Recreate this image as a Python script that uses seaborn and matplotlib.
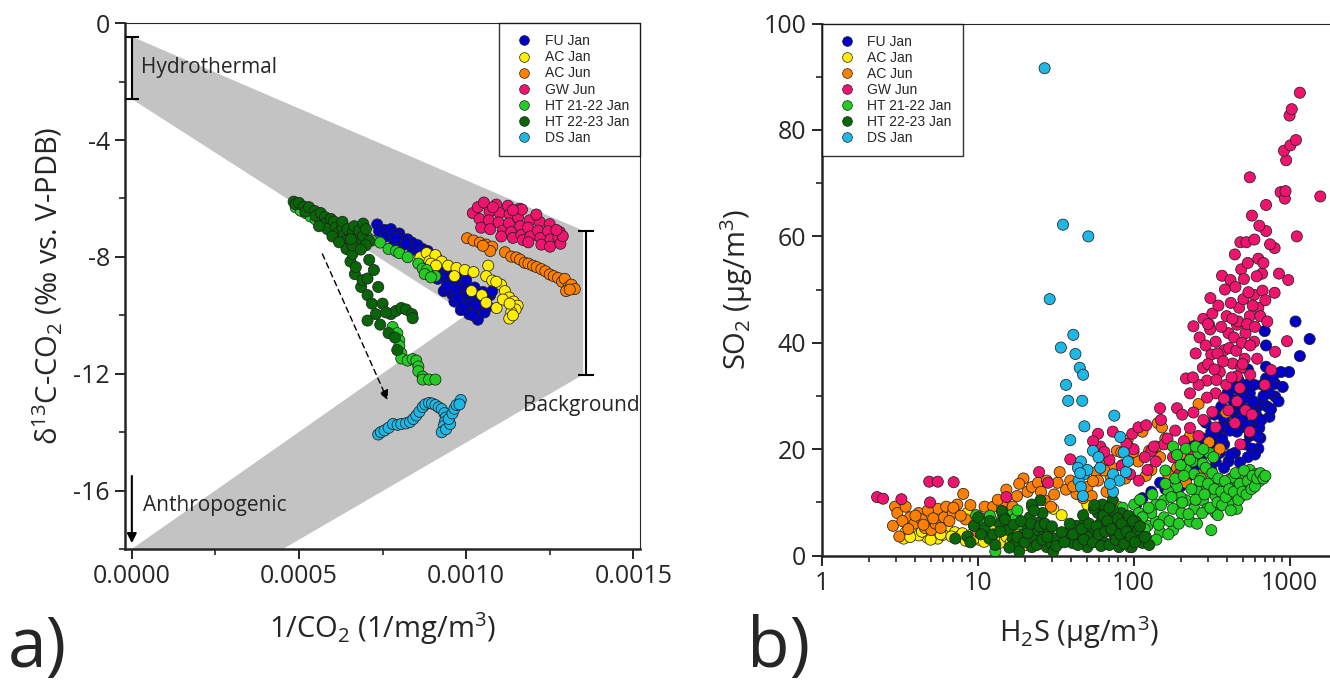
import matplotlib
matplotlib.use("Agg")
import matplotlib.pyplot as plt
import pandas as pd
import seaborn as sns
from matplotlib.lines import Line2D
from matplotlib.ticker import (MultipleLocator, FormatStrFormatter,
                               FuncFormatter, NullFormatter, LogLocator)

sns.set_style("ticks")
plt.rcParams["font.family"] = ["Open Sans", "DejaVu Sans"]
plt.rcParams["mathtext.default"] = "regular"
plt.rcParams["axes.unicode_minus"] = False

SERIES = ["FU Jan", "AC Jan", "AC Jun", "GW Jun",
          "HT 21-22 Jan", "HT 22-23 Jan", "DS Jan"]
COLORS = ["#0000C8", "#FFEE00", "#FF8000", "#F0146E",
          "#22CC22", "#086608", "#1EB8E6"]

# --- panel a: 1/CO2 (1/mg/m3) vs d13C-CO2 ---
FU_JAN_A = [(0.000734, -6.89), (0.00074, -7.12), (0.000756, -7.08), (0.00076, -7.3),
            (0.000775, -7.05), (0.000781, -7.22), (0.000785, -7.45), (0.0008, -7.2),
            (0.000806, -7.36), (0.00081, -7.6), (0.000825, -7.4), (0.000838, -7.51),
            (0.00084, -7.75), (0.000855, -7.6), (0.00087, -7.73), (0.000872, -7.95),
            (0.000885, -7.8), (0.000895, -7.94), (0.000893, -8.2), (0.00091, -8.0),
            (0.00092, -8.16), (0.000918, -8.4), (0.000925, -8.62), (0.000935, -8.3),
            (0.000946, -8.45), (0.00094, -8.7), (0.00095, -8.95), (0.000933, -9.17),
            (0.00096, -8.55), (0.000971, -8.66), (0.000968, -8.9), (0.000959, -9.3),
            (0.000965, -9.53), (0.00098, -9.15), (0.000984, -9.82), (0.00099, -9.45),
            (0.000996, -9.03), (0.001, -8.8), (0.001005, -9.25), (0.001009, -9.96),
            (0.001012, -9.6), (0.001022, -9.31), (0.001025, -9.05), (0.001028, -9.8),
            (0.001035, -10.15), (0.00104, -9.45), (0.001047, -9.53), (0.00105, -9.2),
            (0.001055, -9.9), (0.001072, -9.31), (0.001078, -9.17), (0.001065, -9.7),
            (0.000905, -8.55), (0.00088, -8.1), (0.00086, -7.85), (0.00082, -7.55),
            (0.00079, -7.35), (0.00095, -9.15), (0.00097, -9.1), (0.00099, -9.7),
            (0.00102, -10.0), (0.000942, -9.0), (0.000915, -8.75), (0.00103, -9.65),
            (0.000975, -9.4)]
AC_JAN_A = [(0.000863, -8.01), (0.000882, -7.87), (0.00089, -8.15), (0.000908, -7.94),
            (0.000927, -8.16), (0.000895, -8.23), (0.00091, -8.3), (0.000946, -8.30),
            (0.000971, -8.38), (0.000996, -8.45), (0.001022, -8.52), (0.000965, -8.66),
            (0.001016, -9.17), (0.001047, -9.31), (0.00106, -9.57), (0.001066, -8.30),
            (0.00106, -8.66), (0.001078, -8.81), (0.001104, -8.95), (0.001116, -9.17),
            (0.001129, -9.39), (0.001142, -9.53), (0.001154, -9.67), (0.001148, -9.8),
            (0.001135, -9.89), (0.001129, -10.11), (0.00114, -10.0), (0.001091, -9.75),
            (0.00111, -9.46), (0.00113, -9.6), (0.00109, -8.85)]
AC_JUN_A = [(0.001003, -7.36), (0.001022, -7.44), (0.001041, -7.51), (0.00106, -7.58),
            (0.001078, -7.65), (0.001072, -7.80), (0.00105, -7.62), (0.001116, -7.84),
            (0.001135, -7.99), (0.00115, -8.02), (0.001161, -8.09), (0.001175, -8.2),
            (0.001186, -8.23), (0.0012, -8.3), (0.001211, -8.35), (0.001225, -8.42),
            (0.001237, -8.49), (0.00125, -8.6), (0.001262, -8.66), (0.001275, -8.72),
            (0.001287, -8.85), (0.001295, -8.75), (0.001306, -9.03), (0.001315, -8.95),
            (0.001325, -9.10), (0.001299, -9.17), (0.00131, -9.12)]
GW_JUN_A = [(0.00102, -6.5), (0.001035, -6.3), (0.00104, -6.7), (0.001045, -7.0),
            (0.001053, -6.14), (0.00107, -6.45), (0.001068, -6.75), (0.001072, -7.05),
            (0.00109, -6.21), (0.0011, -6.5), (0.001097, -6.82), (0.00111, -7.1),
            (0.001105, -7.3), (0.001125, -6.25), (0.00113, -6.55), (0.001128, -6.85),
            (0.001135, -7.15), (0.00114, -7.35), (0.00116, -6.35), (0.001155, -6.65),
            (0.001162, -6.95), (0.001165, -7.25), (0.00117, -7.42), (0.001167, -6.38),
            (0.00119, -6.75), (0.001185, -7.0), (0.001192, -7.3), (0.001186, -7.5),
            (0.00122, -6.8), (0.001215, -7.1), (0.001222, -7.35), (0.001225, -7.58),
            (0.00125, -6.88), (0.001245, -7.12), (0.001252, -7.4), (0.001251, -7.65),
            (0.00128, -7.15), (0.001276, -7.35), (0.001282, -7.55), (0.001289, -7.29),
            (0.00127, -7.08), (0.00121, -6.55), (0.00108, -6.3), (0.00114, -6.4)]
HT_2122_A = [(0.00049, -6.3), (0.000505, -6.42), (0.00052, -6.5), (0.000535, -6.62),
             (0.00055, -6.72), (0.00069, -7.25), (0.000705, -7.35), (0.000718, -7.44),
             (0.000743, -7.51), (0.000768, -7.73), (0.00079, -7.8), (0.0008, -7.87),
             (0.000825, -8.01), (0.000857, -8.23), (0.00087, -8.4), (0.000882, -8.45),
             (0.000876, -8.59), (0.000908, -8.66), (0.000895, -8.7), (0.00078, -10.4),
             (0.000794, -10.61), (0.0008, -10.85), (0.0008, -11.05), (0.000806, -11.3),
             (0.000806, -11.48), (0.000825, -11.55), (0.00084, -11.5), (0.000851, -11.55),
             (0.000857, -11.75), (0.000857, -11.91), (0.00087, -12.1), (0.00087, -12.2),
             (0.000889, -12.2), (0.000908, -12.2)]
HT_2223_A = [(0.000484, -6.11), (0.00049, -6.2), (0.0005, -6.15), (0.000515, -6.28),
             (0.00052, -6.45), (0.00053, -6.3), (0.000547, -6.43), (0.00055, -6.6),
             (0.000565, -6.5), (0.000578, -6.64), (0.00058, -6.85), (0.000585, -7.05),
             (0.000595, -6.7), (0.000604, -6.79), (0.00061, -7.0), (0.000615, -7.2),
             (0.000629, -7.0), (0.00063, -6.8), (0.000635, -7.25), (0.00064, -7.45),
             (0.000645, -7.05), (0.000661, -7.15), (0.000665, -6.95), (0.00067, -7.35),
             (0.000675, -7.55), (0.00068, -7.1), (0.000692, -6.86), (0.000692, -7.29),
             (0.0007, -7.05), (0.00071, -7.45), (0.000642, -7.73), (0.000654, -8.16),
             (0.00066, -7.9), (0.000667, -8.59), (0.00067, -8.35), (0.000686, -9.03),
             (0.00069, -8.8), (0.000705, -9.31), (0.000705, -8.74), (0.000718, -9.60),
             (0.000724, -8.45), (0.000737, -9.03), (0.00073, -9.96), (0.00075, -9.6),
             (0.000743, -10.32), (0.000705, -10.18), (0.00071, -8.1), (0.000768, -10.61),
             (0.000787, -10.76), (0.000794, -11.19), (0.000775, -9.96), (0.00079, -9.85),
             (0.000806, -9.75), (0.00082, -9.8), (0.000838, -9.96), (0.00084, -10.1),
             (0.00076, -9.9), (0.00056, -6.95), (0.0006, -7.3), (0.00062, -7.5),
             (0.00066, -7.6), (0.0007, -7.6), (0.000655, -7.4), (0.000685, -7.75)]
DS_JAN_A = [(0.000737, -14.08), (0.000745, -14.0), (0.000756, -13.94), (0.000768, -13.85),
            (0.000781, -13.72), (0.000795, -13.75), (0.000806, -13.72), (0.00082, -13.7),
            (0.000832, -13.65), (0.000842, -13.55), (0.000851, -13.43), (0.00086, -13.3),
            (0.00087, -13.14), (0.000878, -13.05), (0.000889, -13.0), (0.000898, -13.02),
            (0.000908, -13.07), (0.000918, -13.15), (0.000927, -13.21), (0.000935, -13.35),
            (0.000939, -13.50), (0.000936, -13.65), (0.000933, -13.79), (0.000927, -14.0),
            (0.00094, -13.9), (0.000952, -13.72), (0.000948, -13.55), (0.000959, -13.36),
            (0.000965, -13.2), (0.000971, -13.07), (0.000984, -12.9), (0.00098, -13.05)]

# --- panel b: H2S vs SO2 (ug/m3) ---
FU_JAN_B = [(1092, 44.0), (1345, 40.7), (1164, 37.5), (693, 42.2), (707, 39.5), (707, 35.5),
            (707, 33.3), (808, 32.3), (904, 31.7), (993, 34.5), (808, 29.9), (743, 30.5),
            (743, 26.1), (671, 32.1), (631, 28.1), (593, 32.1), (556, 30.5), (522, 32.1),
            (490, 30.5), (460, 27.3), (432, 29.3), (406, 27.3), (381, 25.7), (357, 24.1),
            (336, 22.5), (315, 23.3), (296, 20.9), (261, 20.1), (230, 20.9), (245, 18.5),
            (217, 16.9), (190, 15.3), (167, 14.5), (148, 13.7), (130, 12.0), (114, 10.8),
            (104, 9.6), (490, 24.1), (556, 22.5), (631, 20.1), (650, 22.1), (593, 27.3),
            (671, 28.9), (446, 19.3), (406, 17.7), (357, 19.3), (381, 20.9), (460, 23.3),
            (522, 20.9), (574, 20.1), (336, 17.7), (315, 16.1), (600, 25.0), (540, 35.0),
            (470, 33.0), (640, 24.0), (160, 12.5), (175, 15.5), (200, 13.0), (210, 18.0),
            (225, 15.0), (235, 22.5), (250, 16.0), (270, 18.0), (280, 22.0), (290, 25.0),
            (300, 19.5), (320, 21.0), (330, 26.5), (345, 22.5), (365, 28.0), (370, 22.0),
            (390, 24.0), (400, 30.5), (415, 23.5), (425, 27.0), (445, 31.5), (455, 25.5),
            (475, 28.5), (500, 26.0), (510, 29.5), (530, 24.5), (545, 27.5), (565, 23.0),
            (585, 29.0), (610, 26.5), (620, 22.5), (660, 25.5), (680, 30.0), (720, 28.0),
            (760, 27.5), (780, 33.5), (850, 29.0), (880, 34.5), (600, 19.0), (540, 18.5),
            (480, 17.5), (420, 19.0), (380, 16.5), (270, 13.5)]
AC_JAN_B = [(3.36, 3.2), (3.46, 4.4), (3.81, 4.8), (4.75, 3.4), (5.21, 5.2), (5.56, 3.2),
            (6.50, 4.8), (7.16, 4.4), (7.62, 3.6), (8.4, 2.8), (8.6, 8.0), (9.2, 4.0),
            (9.8, 4.8), (10.8, 3.6), (11.5, 4.4), (12.2, 4.8), (11.9, 7.2), (14.3, 8.4),
            (13.9, 2.4), (15.3, 3.6), (16.3, 2.4), (16.8, 5.2), (17.3, 3.2), (19.0, 4.8),
            (20.3, 2.0), (20.9, 4.4), (22.3, 9.2), (30.6, 8.8), (34.6, 7.6), (81, 9.1),
            (50.6, 9.6), (4.2, 3.8), (6.0, 3.9), (10.2, 3.0), (3.7, 3.5), (4.4, 4.5),
            (5.0, 3.0), (5.8, 4.0), (6.8, 3.6), (8.0, 4.2), (9.5, 3.2), (11.0, 2.6),
            (12.8, 3.4), (14.5, 4.8), (18.0, 3.8), (21.5, 4.0), (16.0, 5.8)]
AC_JUN_B = [(2.87, 5.6), (2.96, 9.2), (3.06, 8.0), (3.15, 3.6), (3.46, 9.2), (3.69, 7.2),
            (3.93, 6.0), (4.19, 8.0), (4.38, 6.8), (4.60, 5.2), (5.05, 4.8), (5.38, 6.0),
            (5.56, 8.8), (6.10, 7.2), (6.30, 9.2), (6.94, 8.0), (7.41, 9.6), (8.1, 11.6),
            (8.4, 6.8), (9.5, 5.6), (10.1, 4.4), (11.1, 9.2), (12.6, 9.2), (14.3, 9.6),
            (15.3, 12.4), (16.8, 9.2), (17.9, 11.2), (19.7, 14.5), (20.9, 12.0), (22.3, 12.9),
            (24.4, 13.7), (26.9, 10.4), (27.8, 14.1), (29.6, 9.2), (32.6, 13.7), (33.6, 15.7),
            (36.9, 12.4), (39.3, 14.1), (43.1, 11.6), (47.5, 10.8), (50.6, 12.9), (53.9, 11.2),
            (57.5, 15.7), (59.2, 14.1), (63.2, 17.7), (67.1, 12.0), (71.3, 14.9), (73.6, 16.5),
            (78.2, 19.7), (83.4, 19.4), (88.7, 14.5), (91.5, 21.7), (94.3, 18.1), (107, 17.7),
            (114, 23.3), (126, 19.7), (130, 16.1), (143, 24.9), (148, 18.5), (152, 24.1),
            (167, 15.3), (190, 16.5), (217, 13.7), (245, 18.5), (261, 28.5), (336, 19.3),
            (393, 26.9), (357, 20.1), (305, 21.3), (3.3, 6.5), (3.6, 5.0), (4.0, 7.5),
            (4.5, 5.8), (4.8, 8.5), (5.2, 7.0), (5.8, 5.2), (6.6, 6.5), (7.0, 9.0),
            (7.8, 7.5), (9.0, 9.5), (10.5, 7.0), (13.5, 10.5), (18.5, 13.5), (25.5, 12.0),
            (31.0, 11.5), (41.0, 13.0), (55.0, 14.0), (65.0, 16.0), (85.0, 17.0),
            (100, 19.5), (120, 15.0), (140, 20.5), (160, 22.0), (200, 19.0), (230, 22.5),
            (280, 15.5), (420, 14.5)]
GW_JUN_B = [(2.27, 11.0), (2.48, 10.7), (3.25, 10.6), (4.90, 13.9), (5.56, 13.9), (7.03, 13.8),
            (4.96, 10.0), (15.3, 11.0), (24.8, 15.7), (28.3, 13.7), (39.3, 18.1), (59.2, 22.9),
            (61.2, 20.5), (73.6, 23.3), (98.2, 22.9), (107.5, 24.1), (120.6, 24.5), (130, 19.7),
            (147.8, 27.7), (190, 27.7), (205, 26.5), (242, 19.3), (242, 26.9), (242, 43.1),
            (305, 43.4), (311, 48.4), (369, 52.6), (418, 51.8), (446, 56.6), (484, 58.9),
            (529, 58.9), (490, 53.8), (556, 71.1), (574, 63.9), (595, 59.4), (631, 55.8),
            (666, 53.0), (707, 61.0), (707, 65.9), (802, 57.8), (802, 49.4), (855, 53.0),
            (876, 68.3), (933, 67.1), (942, 68.5), (981, 51.8), (951, 74.3), (921, 76.1),
            (1012, 77.1), (1099, 78.1), (1000, 82.7), (1033, 83.9), (1164, 87.0), (1113, 60.0),
            (1574, 67.5), (963, 40.3), (808, 38.3), (762, 34.9), (693, 32.1), (278, 35.3),
            (296, 32.9), (315, 37.8), (336, 40.2), (357, 34.5), (381, 38.6), (406, 41.8),
            (432, 36.1), (460, 43.4), (475, 46.6), (506, 48.2), (522, 41.8), (556, 45.0),
            (593, 49.0), (631, 46.6), (671, 49.8), (593, 40.2), (490, 35.3), (393, 32.1),
            (336, 30.5), (296, 29.7), (261, 32.1), (230, 30.5), (217, 33.3), (460, 33.7),
            (406, 27.3), (446, 24.9), (522, 27.3), (574, 26.5), (336, 24.1), (261, 22.5),
            (157, 20.9), (179, 18.5), (139, 17.7), (196, 15.3), (123, 16.1), (108, 14.1),
            (95, 15.3), (84, 16.9), (556, 23.3), (484, 20.9), (250, 38.0), (265, 41.0),
            (280, 44.5), (290, 39.5), (300, 36.0), (310, 42.5), (320, 45.5), (330, 35.0),
            (345, 38.0), (350, 47.0), (365, 43.0), (375, 36.5), (385, 50.0), (395, 45.0),
            (410, 39.0), (420, 47.5), (425, 33.5), (440, 41.0), (450, 50.5), (455, 38.5),
            (470, 44.0), (480, 31.5), (495, 40.0), (510, 52.0), (515, 37.0), (535, 43.5),
            (545, 49.5), (560, 39.5), (580, 47.0), (600, 43.0), (615, 52.5), (620, 37.0),
            (650, 45.0), (680, 55.0), (700, 48.0), (720, 44.0), (750, 58.5), (640, 62.0),
            (540, 55.0), (460, 29.0), (380, 29.5), (320, 27.0), (280, 25.5), (230, 24.0),
            (210, 21.5), (185, 23.5), (165, 22.0), (150, 25.5), (135, 20.5), (118, 18.5),
            (100, 20.0), (90, 21.0), (70, 18.0), (65, 19.5), (55, 21.5), (340, 33.0),
            (300, 43.5), (430, 44.5), (500, 36.0), (560, 34.0), (240, 33.5)]
HT_2122_B = [(13.0, 0.8), (9.8, 7.6), (16.3, 7.6), (14.3, 6.8), (11.1, 6.0), (101, 9.6),
             (108, 8.0), (123, 5.6), (139, 6.4), (157, 7.2), (179, 4.8), (179, 8.8),
             (203, 8.0), (230, 6.4), (217, 10.4), (245, 8.8), (261, 12.0), (278, 10.4),
             (296, 8.8), (296, 12.9), (336, 11.2), (357, 13.7), (381, 12.0), (406, 10.4),
             (432, 14.5), (460, 12.9), (490, 11.2), (522, 14.5), (556, 16.1), (593, 14.5),
             (610, 15.3), (522, 12.9), (336, 8.0), (347, 7.6), (432, 9.6), (460, 8.8),
             (179, 20.5), (190, 18.9), (217, 20.1), (239, 17.7), (261, 19.3), (278, 17.3),
             (217, 16.1), (245, 15.3), (190, 12.9), (167, 12.0), (157, 10.4), (139, 9.6),
             (130, 8.0), (114, 7.2), (148, 4.4), (167, 4.0), (95, 7.2), (95, 1.6), (89, 2.4),
             (108, 4.0), (315, 4.8), (305, 19.3), (325, 18.5), (400, 13.0), (560, 13.5),
             (640, 14.0), (270, 14.5), (200, 11.0), (105, 6.0), (110, 10.5), (118, 5.0),
             (125, 9.0), (132, 11.5), (145, 5.8), (150, 9.5), (160, 13.5), (170, 6.5),
             (175, 11.0), (185, 14.5), (195, 6.0), (205, 10.0), (210, 15.0), (225, 7.8),
             (235, 12.5), (250, 10.5), (255, 6.0), (265, 14.0), (275, 8.0), (285, 11.5),
             (290, 16.5), (300, 13.5), (310, 9.0), (320, 15.5), (330, 12.5), (345, 10.0),
             (350, 14.5), (365, 12.0), (370, 9.5), (385, 14.0), (390, 11.0), (410, 12.5),
             (420, 8.5), (440, 12.0), (450, 15.5), (470, 10.5), (480, 13.5), (500, 12.0),
             (510, 16.0), (530, 11.5), (540, 14.0), (570, 12.5), (580, 15.0), (600, 13.0),
             (620, 14.5), (650, 15.5), (680, 14.5), (700, 15.0), (230, 18.0), (200, 17.0),
             (250, 20.5), (280, 20.0), (160, 16.0), (12.0, 7.5), (15.0, 5.5), (17.5, 7.0),
             (20.0, 5.0), (18.0, 8.5), (120, 3.5), (140, 3.0), (90, 5.5), (85, 9.0)]
HT_2223_B = [(7.2, 3.2), (8.6, 3.6), (9.5, 5.6), (10.1, 7.2), (11.1, 5.2), (11.9, 3.2),
             (12.6, 4.0), (13.9, 6.0), (14.8, 7.2), (15.8, 4.8), (16.8, 3.2), (17.3, 2.0),
             (18.5, 0.8), (19.7, 4.0), (20.9, 5.6), (21.6, 7.2), (22.3, 1.6), (23.7, 3.2),
             (24.4, 4.8), (25.3, 6.4), (26.1, 8.0), (26.9, 4.0), (27.8, 1.6), (28.7, 4.8),
             (29.6, 2.4), (30.6, 0.8), (31.6, 3.2), (25.3, 10.4), (22.3, 9.6), (14.3, 8.4),
             (38.1, 4.4), (40.4, 2.4), (43.1, 5.6), (45.9, 3.6), (49.0, 6.4), (50.6, 1.6),
             (53.9, 4.8), (57.5, 3.2), (59.2, 8.0), (61.2, 6.0), (65.1, 2.4), (67.1, 9.2),
             (69.2, 4.8), (71.3, 7.2), (73.6, 10.4), (75.8, 3.6), (78.2, 5.6), (80.7, 1.6),
             (83.4, 8.0), (86.0, 4.4), (88.7, 6.4), (91.5, 2.8), (94.3, 5.2), (97.3, 1.6),
             (100.4, 4.0), (103.6, 6.4), (106.8, 4.8), (114, 2.4), (126, 2.0), (63.2, 9.6),
             (47.5, 7.6), (55.7, 8.8), (34.6, 4.4), (50.6, 3.6), (9.0, 2.5), (10.5, 4.0),
             (12.0, 6.5), (13.0, 2.0), (14.0, 4.5), (15.0, 6.8), (16.0, 1.5), (17.0, 5.8),
             (18.0, 3.5), (19.0, 6.5), (20.0, 2.5), (21.0, 4.2), (22.0, 6.0), (23.0, 8.5),
             (24.0, 2.0), (25.0, 5.5), (26.0, 3.0), (27.0, 6.0), (28.0, 3.5), (30.0, 5.5),
             (32.0, 1.8), (36.0, 2.5), (39.0, 6.0), (41.0, 4.0), (44.0, 2.0), (46.5, 5.0),
             (48.0, 3.0), (52.0, 6.0), (55.0, 2.5), (58.0, 5.5), (60.0, 4.0), (62.0, 1.8),
             (64.0, 7.5), (66.0, 4.5), (68.0, 6.5), (70.0, 2.0), (72.0, 5.0), (74.0, 8.5),
             (77.0, 3.0), (79.0, 7.0), (82.0, 4.0), (84.0, 6.0), (87.0, 2.2), (90.0, 4.5),
             (93.0, 7.5), (96.0, 3.5), (99.0, 6.5), (102.0, 2.5), (110.0, 5.5), (118.0, 3.5),
             (56.0, 9.5), (70.0, 9.0)]
DS_JAN_B = [(26.9, 91.6), (35.3, 62.2), (51.3, 60.0), (29.0, 48.2), (41.1, 41.5), (34.2, 39.1),
            (42.4, 37.9), (36.9, 32.1), (45.2, 35.3), (47.5, 34.0), (38.1, 29.1), (46.9, 29.1),
            (48.4, 24.3), (75.3, 26.3), (39.3, 21.7), (82.2, 22.3), (54.9, 19.7), (86.5, 19.4),
            (46.0, 17.7), (59.6, 18.5), (44.0, 16.5), (48.1, 15.3), (44.5, 14.1), (46.0, 12.9),
            (47.4, 11.2), (73.9, 15.3), (81.2, 14.1), (89.3, 15.7), (73.9, 12.0), (92.1, 17.7),
            (50.6, 16.1), (61.2, 16.5), (45.5, 15.5), (70.5, 13.5)]

GROUPS_A = [FU_JAN_A, AC_JAN_A, AC_JUN_A, GW_JUN_A, HT_2122_A, HT_2223_A, DS_JAN_A]
GROUPS_B = [FU_JAN_B, AC_JAN_B, AC_JUN_B, GW_JUN_B, HT_2122_B, HT_2223_B, DS_JAN_B]


def to_frame(groups, xname, yname):
    rows = []
    for name, pts in zip(SERIES, groups):
        for x, y in pts:
            rows.append((name, x, y))
    return pd.DataFrame(rows, columns=["series", xname, yname])


def style_axes(ax):
    for side in ["left", "bottom"]:
        ax.spines[side].set_linewidth(1.8)
    for side in ["top", "right"]:
        ax.spines[side].set_linewidth(0.8)
    ax.tick_params(which="major", direction="out", length=7, width=1.4,
                   labelsize=18, pad=4)
    ax.tick_params(which="minor", direction="out", length=4, width=1.2)
    ax.tick_params(top=False, right=False, which="both")


def add_legend(ax, loc, anchor):
    handles = [Line2D([], [], marker="o", ls="", markerfacecolor=c,
                      markeredgecolor="#202020", markeredgewidth=0.5,
                      markersize=7) for c in COLORS]
    leg = ax.legend(handles, SERIES, loc=loc, bbox_to_anchor=anchor,
                    borderaxespad=0, frameon=True, fancybox=False,
                    prop={"family": "Liberation Sans", "size": 10},
                    handlelength=2.0, handletextpad=0.5, labelspacing=0.15,
                    borderpad=0.8)
    leg.get_frame().set_edgecolor("black")
    leg.get_frame().set_linewidth(1.0)
    leg.set_zorder(10)


palette = dict(zip(SERIES, COLORS))
df_a = to_frame(GROUPS_A, "inv_co2", "d13c")
df_b = to_frame(GROUPS_B, "h2s", "so2")

fig = plt.figure(figsize=(13.3, 6.82), dpi=100)
ax_a = fig.add_axes([0.0941, 0.1950, 0.3871, 0.7710])
ax_b = fig.add_axes([0.6177, 0.1853, 0.3872, 0.7802])

# ---- panel a ----
ax_a.fill([0.0, 0.00135, 0.00135, 0.000452, 0.0, 0.001003, 0.0],
          [-0.46, -7.1, -12.03, -18.0, -18.0, -9.96, -2.6],
          color="#C3C3C3", lw=0, zorder=1)
sns.scatterplot(data=df_a, x="inv_co2", y="d13c", hue="series", hue_order=SERIES,
                palette=palette, s=64, edgecolor="#202020", linewidth=0.55,
                legend=False, ax=ax_a, zorder=3)
ax_a.errorbar([0.0], [-1.53], yerr=[[1.07], [1.07]], fmt="none", ecolor="black",
              elinewidth=1.5, capsize=5, capthick=1.5, zorder=4)
ax_a.errorbar([0.001357], [-9.565], yerr=[[2.465], [2.465]], fmt="none",
              ecolor="black", elinewidth=1.5, capsize=6, capthick=1.5, zorder=4)
ax_a.annotate("", xy=(0.0, -17.8), xytext=(0.0, -15.5),
              arrowprops=dict(arrowstyle="-|>", color="black", lw=1.5,
                              mutation_scale=14, shrinkA=0, shrinkB=0), zorder=4)
ax_a.annotate("", xy=(0.000765, -12.9), xytext=(0.00057, -7.9),
              arrowprops=dict(arrowstyle="-|>", color="black", lw=1.0, ls=(0, (4, 3)),
                              mutation_scale=14, shrinkA=0, shrinkB=0), zorder=4)
ax_a.text(0.000028, -1.5, "Hydrothermal", fontsize=15, va="center", ha="left")
ax_a.text(0.000032, -16.5, "Anthropogenic", fontsize=15, va="center", ha="left")
ax_a.text(0.00117, -13.1, "Background", fontsize=15, va="center", ha="left")

ax_a.set_xlim(-0.00002, 0.00152)
ax_a.set_ylim(-18, 0)
ax_a.xaxis.set_major_locator(MultipleLocator(0.0005))
ax_a.xaxis.set_minor_locator(MultipleLocator(0.00025))
ax_a.xaxis.set_major_formatter(FormatStrFormatter("%.4f"))
ax_a.yaxis.set_major_locator(MultipleLocator(4))
ax_a.yaxis.set_minor_locator(MultipleLocator(2))
style_axes(ax_a)
ax_a.set_xlabel("1/CO$_2$ (1/mg/m$^3$)", fontsize=21, labelpad=15)
ax_a.set_ylabel("δ$^{13}$C-CO$_2$ (‰ vs. V-PDB)", fontsize=21, labelpad=6)
add_legend(ax_a, "upper right", (1.0, 1.0))

# ---- panel b ----
sns.scatterplot(data=df_b, x="h2s", y="so2", hue="series", hue_order=SERIES,
                palette=palette, s=64, edgecolor="#202020", linewidth=0.55,
                legend=False, ax=ax_b, zorder=3)
ax_b.set_xscale("log")
ax_b.set_xlim(1, 2000)
ax_b.set_ylim(0, 100)
ax_b.xaxis.set_major_locator(LogLocator(base=10))
ax_b.xaxis.set_minor_locator(LogLocator(base=10, subs=range(2, 10)))
ax_b.xaxis.set_major_formatter(FuncFormatter(lambda v, p: f"{v:g}"))
ax_b.xaxis.set_minor_formatter(NullFormatter())
ax_b.yaxis.set_major_locator(MultipleLocator(20))
ax_b.yaxis.set_minor_locator(MultipleLocator(10))
style_axes(ax_b)
ax_b.set_xlabel("H$_2$S (µg/m$^3$)", fontsize=21, labelpad=13)
ax_b.set_ylabel("SO$_2$ (µg/m$^3$)", fontsize=21, labelpad=6)
add_legend(ax_b, "upper left", (0.0, 1.0))

fig.text(0.006, 0.022, "a)", fontsize=50, va="baseline")
fig.text(0.562, 0.022, "b)", fontsize=50, va="baseline")

fig.savefig("out.png", dpi=100)
